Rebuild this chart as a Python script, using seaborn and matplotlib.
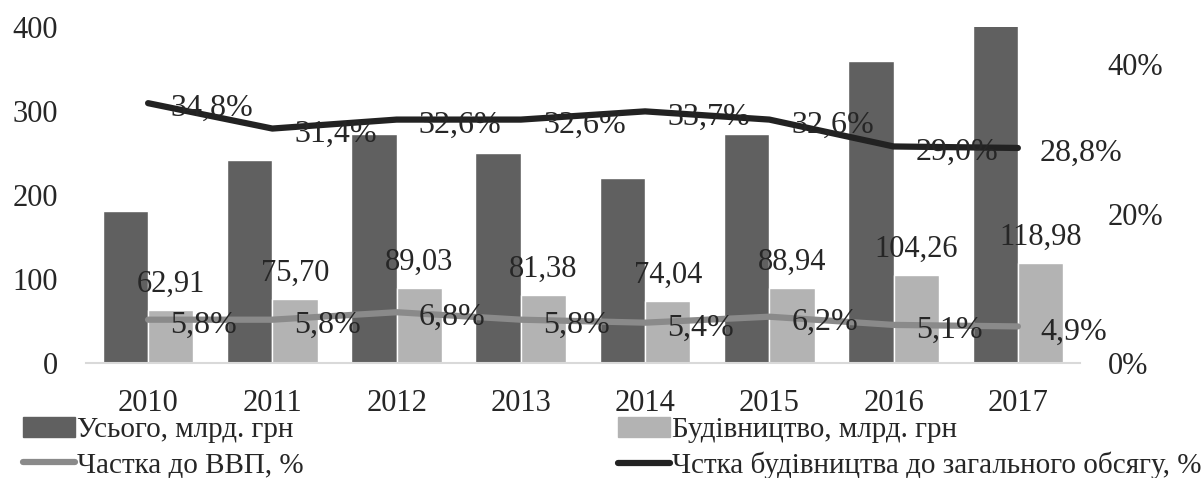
import numpy as np
import pandas as pd
import seaborn as sns
import matplotlib.pyplot as plt
from matplotlib.patches import Patch
from matplotlib.lines import Line2D

years = ["2010", "2011", "2012", "2013", "2014", "2015", "2016", "2017"]
total = [180.8, 241.1, 273.1, 249.6, 219.7, 272.8, 359.5, 413.1]
construction = [62.91, 75.70, 89.03, 81.38, 74.04, 88.94, 104.26, 118.98]
gdp_share = [5.8, 5.8, 6.8, 5.8, 5.4, 6.2, 5.1, 4.9]
constr_share = [34.8, 31.4, 32.6, 32.6, 33.7, 32.6, 29.0, 28.8]

lbl_total = "Усього, млрд. грн"
lbl_constr = "Будівництво, млрд. грн"
lbl_gdp = "Частка до ВВП, %"
lbl_share = "Чстка будівництва до загального обсягу, %"

dark = "#606060"
light = "#b3b3b3"
line_gray = "#8a8a8a"
line_black = "#222222"

sns.set_style("white")
plt.rcParams["font.family"] = ["Liberation Serif", "DejaVu Serif"]

df = pd.DataFrame({
    "year": years * 2,
    "value": total + construction,
    "series": [lbl_total] * len(years) + [lbl_constr] * len(years),
})

fig = plt.figure(figsize=(12.04, 4.78), dpi=100)
ax = fig.add_axes([0.0714, 0.2406, 0.8256, 0.7029])

sns.barplot(data=df, x="year", y="value", hue="series",
            palette=[dark, light], width=0.73, saturation=1,
            legend=False, ax=ax)
ax.set_ylim(0, 400)
ax.set_yticks([0, 100, 200, 300, 400])
ax.set_xlabel("")
ax.set_ylabel("")
ax.tick_params(axis="y", labelsize=22, length=0, pad=20)
ax.tick_params(axis="x", labelsize=22, length=0, pad=19)
for s in ["top", "left", "right"]:
    ax.spines[s].set_visible(False)
ax.spines["bottom"].set_color("#d9d9d9")
ax.spines["bottom"].set_linewidth(1.5)

# labels on the light bars
ax.bar_label(ax.containers[1], labels=[f"{v:.2f}".replace(".", ",") for v in construction],
             padding=8, fontsize=22)

ax2 = ax.twinx()
x = np.arange(len(years))
sns.lineplot(x=x, y=np.array(gdp_share) / 100, color=line_gray, linewidth=4.5, ax=ax2)
sns.lineplot(x=x, y=np.array(constr_share) / 100, color=line_black, linewidth=4.5, ax=ax2)
ax2.set_ylim(0, 0.45)
ax2.set_yticks([0, 0.2, 0.4])
ax2.set_yticklabels(["0%", "20%", "40%"])
ax2.tick_params(axis="y", labelsize=22, length=0, pad=20)
for s in ["top", "left", "right", "bottom"]:
    ax2.spines[s].set_visible(False)
ax2.set_xlim(-0.5, len(years) - 0.5)

for i in range(len(years)):
    ax2.annotate(f"{gdp_share[i]:.1f}%".replace(".", ","), (x[i], gdp_share[i] / 100),
                 xytext=(16, -4), textcoords="offset points", ha="left", va="center", fontsize=23)
    ax2.annotate(f"{constr_share[i]:.1f}%".replace(".", ","), (x[i], constr_share[i] / 100),
                 xytext=(16, -4), textcoords="offset points", ha="left", va="center", fontsize=23)

leg_kw = dict(frameon=False, fontsize=21, handlelength=1.8, handletextpad=0.05,
              labelspacing=0.3, borderaxespad=0, borderpad=0)
fig.legend(handles=[Patch(color=dark), Line2D([], [], color=line_gray, linewidth=4.5)],
           labels=[lbl_total, lbl_gdp], loc="upper left",
           bbox_to_anchor=(0.019, 0.128), **leg_kw)
fig.legend(handles=[Patch(color=light), Line2D([], [], color=line_black, linewidth=4.5)],
           labels=[lbl_constr, lbl_share], loc="upper left",
           bbox_to_anchor=(0.513, 0.128), **leg_kw)

fig.savefig("out.png", dpi=100)
